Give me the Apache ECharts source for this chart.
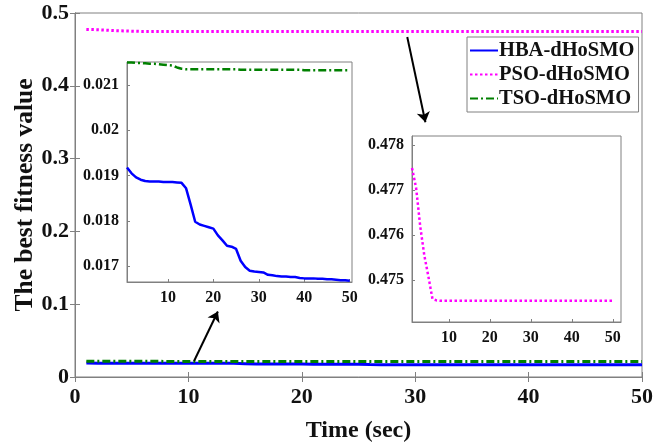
<!DOCTYPE html>
<html>
<head>
<meta charset="utf-8">
<script src="https://cdn.jsdelivr.net/npm/echarts@6/dist/echarts.min.js"></script>
<style>html,body{margin:0;padding:0;background:#fff}#c{width:668px;height:445px}</style>
</head>
<body>
<div id="c"></div>
<script>
// Time axis (sec)
var time = [];
for (var i = 1; i <= 50; i++) time.push(i);

var seriesNames = ['HBA-dHoSMO', 'PSO-dHoSMO', 'TSO-dHoSMO'];

var hba = [0.01918,0.01905,0.01896,0.01891,0.01888,0.01887,0.01887,0.01887,0.01886,0.01886,
           0.01886,0.01885,0.01884,0.01872,0.01836,0.01798,0.01792,0.01789,0.01786,0.01783,
           0.01768,0.01757,0.01745,0.01743,0.01738,0.01712,0.01698,0.01690,0.01688,0.01687,
           0.01686,0.01681,0.01680,0.01678,0.01677,0.01677,0.01676,0.01676,0.01674,0.01673,
           0.01673,0.01673,0.01672,0.01672,0.01671,0.01671,0.01670,0.01669,0.01669,0.01668];

var pso = [0.47749,0.47705,0.47620,0.47555,0.47508,0.47458,0.47455,0.47454,0.47454,0.47454,
           0.47454,0.47454,0.47454,0.47454,0.47454,0.47454,0.47454,0.47454,0.47454,0.47454,
           0.47454,0.47454,0.47454,0.47454,0.47454,0.47454,0.47454,0.47454,0.47454,0.47454,
           0.47454,0.47454,0.47454,0.47454,0.47454,0.47454,0.47454,0.47454,0.47454,0.47454,
           0.47454,0.47454,0.47454,0.47454,0.47454,0.47454,0.47454,0.47454,0.47454,0.47454];

var tso = [0.02150,0.02150,0.02149,0.02149,0.02148,0.02147,0.02147,0.02146,0.02145,0.02144,
           0.02143,0.02139,0.02136,0.02135,0.02135,0.02135,0.02135,0.02135,0.02135,0.02135,
           0.02135,0.02135,0.02135,0.02135,0.02135,0.02134,0.02134,0.02134,0.02134,0.02134,
           0.02134,0.02134,0.02134,0.02134,0.02134,0.02134,0.02134,0.02134,0.02134,0.02133,
           0.02133,0.02133,0.02133,0.02133,0.02133,0.02133,0.02133,0.02133,0.02133,0.02133];

var mainXTicks = [0, 10, 20, 30, 40, 50];
var mainYTicks = [0, 0.1, 0.2, 0.3, 0.4, 0.5];
var inset1YTicks = [0.017, 0.018, 0.019, 0.02, 0.021];
var inset2YTicks = [0.475, 0.476, 0.477, 0.478];
var insetXTicks = [10, 20, 30, 40, 50];

function pairs(v) { return time.map(function (t, i) { return [t, v[i]]; }); }

var FONT = '"Liberation Serif", "Times New Roman", serif';
var AX = '#808080';

var chart = echarts.init(document.getElementById('c'), null, {renderer: 'canvas'});

var styles = {
  'HBA-dHoSMO': {color: '#0000ff', type: 'solid'},
  'PSO-dHoSMO': {color: '#ff00ff', type: [2.5, 2.5]},
  'TSO-dHoSMO': {color: '#008000', type: [8, 3, 2, 3]}
};

function lineSeries(name, data, xi, yi, w, extra) {
  var s = {
    name: name, type: 'line', data: pairs(data), xAxisIndex: xi, yAxisIndex: yi,
    showSymbol: false, symbol: 'none', animation: false,
    lineStyle: {color: styles[name].color, type: styles[name].type, width: w},
    itemStyle: {color: styles[name].color}
  };
  if (extra) for (var k in extra) s[k] = extra[k];
  return s;
}

function valAxis(o) {
  var base = {
    type: 'value', axisLine: {show: true, lineStyle: {color: AX, width: 1}},
    axisTick: {show: true, inside: true, length: 5, lineStyle: {color: AX}},
    splitLine: {show: false},
    nameMoveOverlap: false,
    axisLabel: {fontFamily: FONT, fontWeight: 'bold', color: '#111', fontSize: 22}
  };
  for (var k in o) {
    if (typeof o[k] === 'object' && !Array.isArray(o[k]) && base[k]) {
      for (var j in o[k]) base[k][j] = o[k][j];
    } else base[k] = o[k];
  }
  return base;
}

var option = {
  backgroundColor: '#fff',
  animation: false,
  grid: [
    {left: 75, right: 26, top: 13, bottom: 68, show: true, borderColor: AX, borderWidth: 1, backgroundColor: '#fff', outerBoundsMode: 'none', containLabel: false},
    {left: 127, width: 225, top: 62, height: 220, show: true, borderColor: AX, borderWidth: 1, backgroundColor: '#fff', outerBoundsMode: 'none', containLabel: false},
    {left: 412, width: 209, top: 136, height: 186, show: true, borderColor: AX, borderWidth: 1, backgroundColor: '#fff', outerBoundsMode: 'none', containLabel: false}
  ],
  legend: {
    data: seriesNames,
    left: 467, top: 37,
    orient: 'vertical',
    backgroundColor: '#fff',
    borderColor: AX, borderWidth: 1,
    padding: [3, 4, 3, 2],
    itemGap: 3,
    itemWidth: 28, itemHeight: 20,
    itemStyle: {opacity: 0, borderWidth: 0},
    textStyle: {fontFamily: FONT, fontWeight: 'bold', fontSize: 20.5, color: '#111', padding: [0, 0, 0, -4]}
  },
  xAxis: [
    valAxis({gridIndex: 0, min: 0, max: 50, interval: 10,
      name: 'Time (sec)', nameLocation: 'middle', nameGap: 42,
      nameTextStyle: {fontFamily: FONT, fontWeight: 'bold', fontSize: 24, color: '#111'},
      axisLabel: {margin: 9, customValues: mainXTicks}, axisTick: {customValues: mainXTicks}}),
    valAxis({gridIndex: 0, min: 0, max: 50, interval: 10, position: 'top',
      axisLabel: {show: false}}),
    valAxis({gridIndex: 1, min: 1, max: 50.5,
      axisLabel: {fontSize: 16, margin: 8, customValues: insetXTicks}, axisTick: {length: 3, customValues: insetXTicks}}),
    valAxis({gridIndex: 2, min: 1, max: 52,
      axisLabel: {fontSize: 16, margin: 8, customValues: insetXTicks}, axisTick: {length: 3, customValues: insetXTicks}})
  ],
  yAxis: [
    valAxis({gridIndex: 0, min: 0, max: 0.5, interval: 0.1,
      name: 'The best fitness value', nameLocation: 'middle', nameGap: 37,
      nameTextStyle: {fontFamily: FONT, fontWeight: 'bold', fontSize: 25.5, color: '#111'},
      axisLabel: {margin: 6, customValues: mainYTicks}, axisTick: {customValues: mainYTicks}}),
    valAxis({gridIndex: 0, min: 0, max: 0.5, interval: 0.1, position: 'right',
      axisLabel: {show: false}}),
    valAxis({gridIndex: 1, min: 0.01665, max: 0.02151,
      axisLabel: {fontSize: 16, margin: 8, customValues: inset1YTicks}, axisTick: {length: 3, customValues: inset1YTicks}}),
    valAxis({gridIndex: 2, min: 0.47407, max: 0.4782,
      axisLabel: {fontSize: 16, margin: 8, customValues: inset2YTicks}, axisTick: {length: 3, customValues: inset2YTicks}})
  ],
  series: [
    lineSeries('HBA-dHoSMO', hba, 0, 0, 3, {
      markLine: {
        silent: true, symbol: ['none', 'arrow'], symbolSize: 10,
        label: {show: false},
        lineStyle: {color: '#000', type: 'solid', width: 2},
        emphasis: {disabled: true},
        data: [
          [{coord: [10.5, 0.022]}, {coord: [12.6, 0.090]}],
          [{coord: [29.3, 0.467]}, {coord: [30.9, 0.350]}]
        ]
      }
    }),
    lineSeries('PSO-dHoSMO', pso, 0, 0, 3),
    lineSeries('TSO-dHoSMO', tso, 0, 0, 3),
    lineSeries('HBA-dHoSMO', hba, 2, 2, 2.5),
    lineSeries('TSO-dHoSMO', tso, 2, 2, 2.5),
    lineSeries('PSO-dHoSMO', pso, 3, 3, 2.5)
  ]
};
chart.setOption(option);
</script>
</body>
</html>
